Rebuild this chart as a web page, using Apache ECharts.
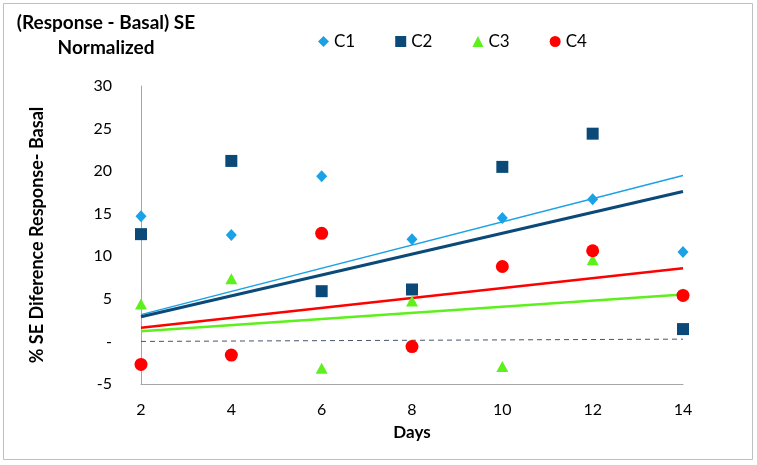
<!DOCTYPE html>
<html><head><meta charset="utf-8">
<script src="https://cdn.jsdelivr.net/npm/echarts@6/dist/echarts.min.js"></script>
<style>html,body{margin:0;padding:0;background:#fff}#c{width:757px;height:465px}</style>
</head><body><div id="c"></div>
<script>
const days = [2, 4, 6, 8, 10, 12, 14];
const c1 = [14.7, 12.5, 19.4, 12.0, 14.5, 16.7, 10.5];
const c2 = [12.6, 21.2, 5.9, 6.1, 20.5, 24.4, 1.45];
const c3 = [4.4, 7.35, -3.15, 4.75, -2.95, 9.6, 5.6];
const c4 = [-2.7, -1.6, 12.7, -0.6, 8.8, 10.65, 5.4];
// trendline endpoints [x, y]
const trendC1 = [[2, 3.15], [14, 19.5]];
const trendC2 = [[2, 2.9], [14, 17.6]];
const trendC3 = [[2, 1.2], [14, 5.5]];
const trendC4 = [[2, 1.6], [14, 8.6]];
const baseline = [[2, 0], [14, 0.27]];
const yTicks = [-5, 0, 5, 10, 15, 20, 25, 30];

const font = 'Lato, "Open Sans", sans-serif';
const pts = arr => days.map((d, i) => [d, arr[i]]);
const colC1 = '#1BA1E6', colC2 = '#0B4A78', colC3 = '#5CF01C', colC4 = '#FF0000';

const chart = echarts.init(document.getElementById('c'));
chart.setOption({
  animation: false,
  graphic: [{type: 'rect', shape: {x: 3.5, y: 3.5, width: 749, height: 456}, style: {fill: 'none', stroke: '#BFBFBF', lineWidth: 1}, silent: true, z: -1}],
  title: {
    text: '(Response - Basal) SE\nNormalized',
    left: 101, top: 5, textAlign: 'center',
    textStyle: {fontFamily: font, fontSize: 19, fontWeight: 'bold', color: '#000', lineHeight: 25}
  },
  legend: {
    top: 28, left: 313, itemGap: 40, itemWidth: 11, itemHeight: 11,
    textStyle: {fontFamily: font, fontSize: 17, color: '#000'},
    data: [
      {name: 'C1', icon: 'diamond'},
      {name: 'C2', icon: 'rect'},
      {name: 'C3', icon: 'triangle'},
      {name: 'C4', icon: 'circle'}
    ]
  },
  grid: {left: 141, right: 74, top: 86, bottom: 81},
  xAxis: {
    type: 'value', min: 2, max: 14, interval: 2,
    name: 'Days', nameLocation: 'middle', nameGap: 40,
    nameTextStyle: {fontFamily: font, fontSize: 17, fontWeight: 'bold', color: '#000'},
    axisLine: {onZero: false, lineStyle: {color: '#A6A6A6', width: 1}},
    axisTick: {show: false}, splitLine: {show: false},
    axisLabel: {fontFamily: font, fontSize: 16, color: '#000', margin: 18}
  },
  yAxis: {
    type: 'value', min: yTicks[0], max: yTicks[yTicks.length - 1], interval: 5,
    name: '% SE Diference Response- Basal', nameLocation: 'middle', nameGap: 95, nameRotate: 90,
    nameTextStyle: {fontFamily: font, fontSize: 18, fontWeight: 'bold', color: '#000'},
    axisLine: {show: true, lineStyle: {color: '#A6A6A6', width: 1}},
    axisTick: {show: false}, splitLine: {show: false},
    axisLabel: {fontFamily: font, fontSize: 16, color: '#000', margin: 29,
      formatter: v => v === 0 ? '-' : String(v)}
  },
  series: [
    {type: 'line', data: baseline, symbol: 'none', silent: true, lineStyle: {color: '#44546A', width: 1, type: [5, 4]}, z: 1},
    {type: 'line', data: trendC1, symbol: 'none', silent: true, lineStyle: {color: colC1, width: 1.5}, z: 2},
    {type: 'line', data: trendC2, symbol: 'none', silent: true, lineStyle: {color: colC2, width: 3}, z: 2},
    {type: 'line', data: trendC3, symbol: 'none', silent: true, lineStyle: {color: colC3, width: 2.5}, z: 2},
    {type: 'line', data: trendC4, symbol: 'none', silent: true, lineStyle: {color: colC4, width: 2.5}, z: 2},
    {name: 'C1', type: 'scatter', data: pts(c1), symbol: 'diamond', symbolSize: [11, 12], itemStyle: {color: colC1, opacity: 1}, z: 3},
    {name: 'C2', type: 'scatter', data: pts(c2), symbol: 'rect', symbolSize: 12, itemStyle: {color: colC2, opacity: 1}, z: 3},
    {name: 'C3', type: 'scatter', data: pts(c3), symbol: 'triangle', symbolSize: [12, 11], itemStyle: {color: colC3, opacity: 1}, z: 3},
    {name: 'C4', type: 'scatter', data: pts(c4), symbol: 'circle', symbolSize: 13, itemStyle: {color: colC4, opacity: 1}, z: 4}
  ]
});
</script></body></html>
